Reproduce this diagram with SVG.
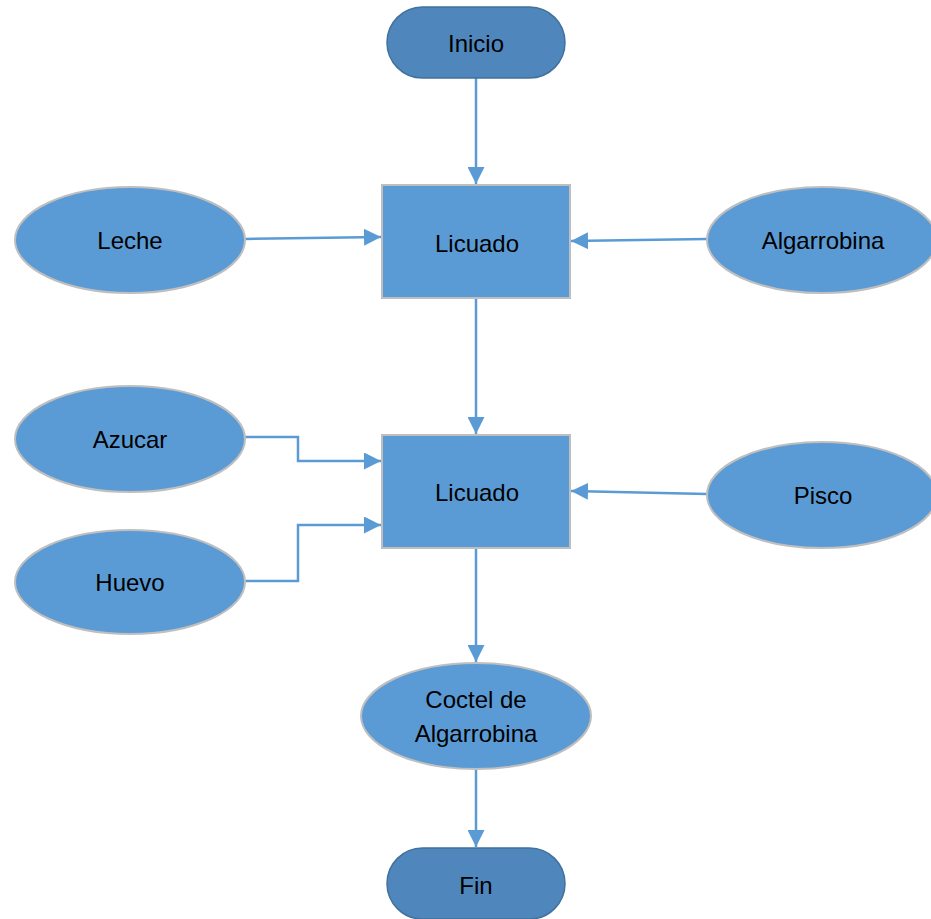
<svg xmlns="http://www.w3.org/2000/svg" width="931" height="919" viewBox="0 0 931 919">
  <defs>
    <marker id="arrow" viewBox="0 0 10 10" refX="10" refY="5" markerWidth="17" markerHeight="17" markerUnits="userSpaceOnUse" orient="auto">
      <path d="M0,0 L10,5 L0,10 z" fill="#5B9BD5"/>
    </marker>
    <style>
      .shape { fill: #5B9BD5; stroke: #BFBFBF; stroke-width: 2; }
      .term { fill: #4F87BD; stroke: #41719C; stroke-width: 1.5; }
      .lbl { font-family: "Liberation Sans", Arial, sans-serif; font-size: 24px; fill: #000; text-anchor: middle; dominant-baseline: central; }
      .conn { fill: none; stroke: #5B9BD5; stroke-width: 2.5; marker-end: url(#arrow); }
    </style>
  </defs>
  <rect width="931" height="919" fill="#fff"/>

  <g id="connectors">
    <path class="conn" d="M476,78 L476,184"/>
    <path class="conn" d="M245,239 L381,237"/>
    <path class="conn" d="M707,239 L571,241"/>
    <path class="conn" d="M476,298 L476,434"/>
    <path class="conn" d="M245,437 L298,437 L298,461 L381,461"/>
    <path class="conn" d="M245,581 L298,581 L298,525 L381,525"/>
    <path class="conn" d="M707,494 L571,491"/>
    <path class="conn" d="M476,548 L476,662"/>
    <path class="conn" d="M476,768 L476,847"/>
  </g>

  <g id="inicio">
    <rect class="term" x="387" y="7" width="178" height="71" rx="35.5"/>
    <text class="lbl" x="476" y="43">Inicio</text>
  </g>
  <g id="licuado1">
    <rect class="shape" x="382" y="185" width="188" height="113"/>
    <text class="lbl" x="477" y="243">Licuado</text>
  </g>
  <g id="leche">
    <ellipse class="shape" cx="130" cy="240" rx="115" ry="53"/>
    <text class="lbl" x="130" y="240">Leche</text>
  </g>
  <g id="algarrobina">
    <ellipse class="shape" cx="822" cy="240" rx="115" ry="53"/>
    <text class="lbl" x="823" y="240">Algarrobina</text>
  </g>
  <g id="azucar">
    <ellipse class="shape" cx="130" cy="439" rx="115" ry="53"/>
    <text class="lbl" x="130" y="439">Azucar</text>
  </g>
  <g id="licuado2">
    <rect class="shape" x="382" y="435" width="188" height="113"/>
    <text class="lbl" x="477" y="492">Licuado</text>
  </g>
  <g id="pisco">
    <ellipse class="shape" cx="822" cy="495" rx="115" ry="53"/>
    <text class="lbl" x="823" y="495">Pisco</text>
  </g>
  <g id="huevo">
    <ellipse class="shape" cx="130" cy="582" rx="115" ry="52"/>
    <text class="lbl" x="130" y="582">Huevo</text>
  </g>
  <g id="coctel">
    <ellipse class="shape" cx="476" cy="716" rx="115" ry="53"/>
    <text class="lbl" x="476" y="699">Coctel de</text>
    <text class="lbl" x="476" y="733">Algarrobina</text>
  </g>
  <g id="fin">
    <rect class="term" x="387" y="848" width="178" height="71" rx="35.5"/>
    <text class="lbl" x="476" y="885">Fin</text>
  </g>
</svg>
